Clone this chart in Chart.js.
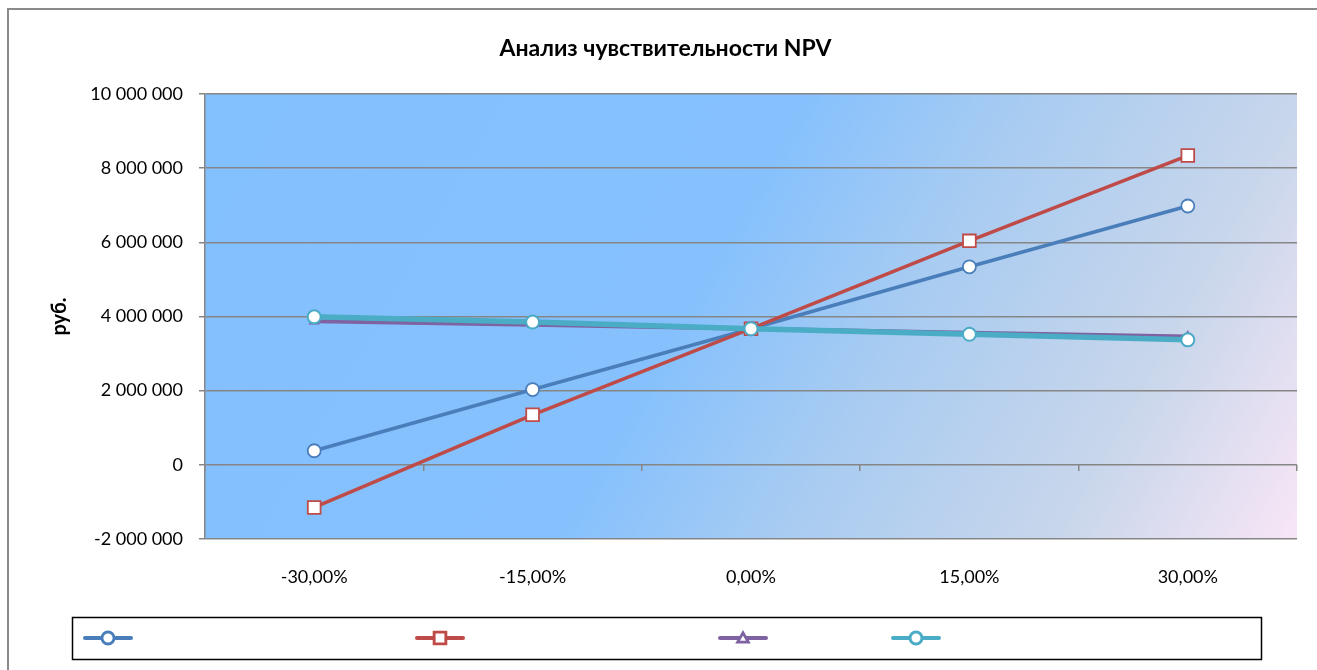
<!DOCTYPE html>
<html>
<head>
<meta charset="utf-8">
<script src="https://cdn.jsdelivr.net/npm/chart.js@4.4.1/dist/chart.umd.min.js"></script>
<style>
  html, body { margin: 0; padding: 0; background: #ffffff; }
  #wrap { width: 1317px; height: 670px; position: relative; }
</style>
</head>
<body>
<div id="wrap"><canvas id="c" width="1317" height="670"></canvas></div>
<script>
// ---- data ----
const categories = ['-30,00%', '-15,00%', '0,00%', '15,00%', '30,00%'];
const seriesA = [380000, 2030000, 3670000, 5340000, 6980000];   // blue, circles
const seriesB = [-1150000, 1350000, 3670000, 6040000, 8340000]; // red, squares
const seriesC = [3870000, 3780000, 3670000, 3560000, 3460000];  // purple, triangles
const seriesD = [3990000, 3850000, 3670000, 3520000, 3370000];  // teal, circles
const yTicks = [-2000000, 0, 2000000, 4000000, 6000000, 8000000, 10000000];
const titleText = 'Анализ чувствительности NPV';
const yTitle = 'руб.';

const FONT = 'Lato, "DejaVu Sans", sans-serif';

function fmt(v) {
  const s = Math.abs(v).toString().replace(/\B(?=(\d{3})+(?!\d))/g, ' ');
  return (v < 0 ? '-' : '') + s;
}

const bgPlugin = {
  id: 'bgPlugin',
  beforeDraw(chart) {
    const ctx = chart.ctx;
    const a = chart.chartArea;
    ctx.save();
    ctx.fillStyle = '#ffffff';
    ctx.fillRect(0, 0, chart.width, chart.height);
    ctx.strokeStyle = '#8a8a8a';
    ctx.lineWidth = 2;
    ctx.strokeRect(8, 9, chart.width + 20, chart.height + 20);
    const w = a.right - a.left, h = a.bottom - a.top;
    const dx = 445, dy = 250, len = Math.hypot(dx, dy);
    const ux = dx / len, uy = dy / len;
    const proj = w * ux + h * uy;
    const g = ctx.createLinearGradient(a.left, a.top, a.left + ux * proj, a.top + uy * proj);
    g.addColorStop(0, '#83c0fe');
    g.addColorStop(0.45, '#86c1fd');
    g.addColorStop(0.62, '#a9ccf1');
    g.addColorStop(0.82, '#c8d6eb');
    g.addColorStop(1, '#f8e6f6');
    ctx.fillStyle = g;
    ctx.fillRect(a.left, a.top, w, h);
    ctx.restore();
  }
};

const legendPlugin = {
  id: 'boxLegend',
  afterDraw(chart) {
    const ctx = chart.ctx;
    ctx.save();
    ctx.strokeStyle = '#000000';
    ctx.lineWidth = 1.5;
    ctx.strokeRect(72.5, 617.5, 1189, 42);
    const centers = [108, 440, 743, 916];
    const y = 638;
    chart.data.datasets.forEach((ds, i) => {
      const cx = centers[i];
      ctx.strokeStyle = ds.borderColor;
      ctx.lineWidth = 4;
      ctx.lineCap = 'round';
      ctx.beginPath();
      ctx.moveTo(cx - 23, y);
      ctx.lineTo(cx + 23, y);
      ctx.stroke();
      Chart.helpers.drawPoint(ctx, {
        pointStyle: ds.pointStyle,
        radius: ds.legendRadius,
        borderWidth: ds.pointBorderWidth,
        rotation: 0
      }, cx, ds.pointStyle === 'triangle' ? y + 1 : y);
      ctx.fillStyle = '#ffffff';
      ctx.strokeStyle = ds.borderColor;
      ctx.lineWidth = ds.pointBorderWidth;
      ctx.fill();
      ctx.stroke();
    });
    ctx.restore();
  }
};

const mk = (data, color, style, r, lw, bw, lr, order) => ({
  data,
  borderColor: color,
  backgroundColor: '#ffffff',
  pointBackgroundColor: '#ffffff',
  pointBorderColor: color,
  pointStyle: style,
  pointRadius: r,
  pointHoverRadius: r,
  pointBorderWidth: bw,
  borderWidth: lw,
  legendRadius: lr,
  order,
  tension: 0,
  xAxisID: 'x',
  yAxisID: 'y'
});

new Chart(document.getElementById('c'), {
  type: 'line',
  data: {
    labels: categories,
    datasets: [
      mk(seriesA, '#4a7ebb', 'circle', 6.5, 3.5, 1.8, 5.5, 3),
      mk(seriesB, '#be4b48', 'rect', 9, 3.5, 1.8, 7.5, 2),
      mk(seriesC, '#7e62a1', 'triangle', 5, 4, 1.5, 5, 1),
      mk(seriesD, '#4bacc6', 'circle', 6.5, 5.5, 2, 5.5, 0)
    ]
  },
  options: {
    responsive: false,
    animation: false,
    devicePixelRatio: 1,
    layout: { padding: { left: 34, right: 20, top: 0, bottom: 84 } },
    plugins: {
      legend: { display: false },
      tooltip: { enabled: false },
      title: {
        display: true,
        text: titleText,
        color: '#000000',
        font: { family: FONT, size: 23, weight: 'bold', lineHeight: 1.2 },
        padding: { top: 35.2, bottom: 31.2 }
      }
    },
    scales: {
      x: {
        type: 'category',
        position: 'bottom',
        offset: true,
        grid: { display: false, drawTicks: false },
        border: { display: false },
        ticks: {
          color: '#000000',
          font: { family: FONT, size: 18 },
          padding: 27,
          maxRotation: 0,
          autoSkip: false
        },
        afterFit(s) { s.height = 47; }
      },
      x0: {
        type: 'category',
        axis: 'x',
        position: { y: 0 },
        offset: true,
        grid: {
          display: true,
          offset: true,
          drawOnChartArea: false,
          drawTicks: true,
          tickLength: 6,
          color: '#868686',
          lineWidth: 1.5
        },
        border: { display: false },
        ticks: { display: false }
      },
      y: {
        type: 'linear',
        min: -2000000,
        max: 10000000,
        afterBuildTicks(s) { s.ticks = yTicks.map(v => ({ value: v })); },
        grid: {
          color: '#868686',
          lineWidth: 1.5,
          drawTicks: true,
          tickLength: 6
        },
        border: { display: true, color: '#868686', width: 1.5 },
        ticks: {
          color: '#000000',
          font: { family: FONT, size: 18 },
          padding: 16,
          callback: (v) => fmt(v)
        },
        title: {
          display: true,
          text: yTitle,
          color: '#000000',
          font: { family: FONT, size: 20, weight: 'bold', lineHeight: 1.2 },
          padding: { top: 14, bottom: 0 }
        },
        afterFit(s) { s.width = 171; }
      }
    }
  },
  plugins: [bgPlugin, legendPlugin]
});
</script>
</body>
</html>
